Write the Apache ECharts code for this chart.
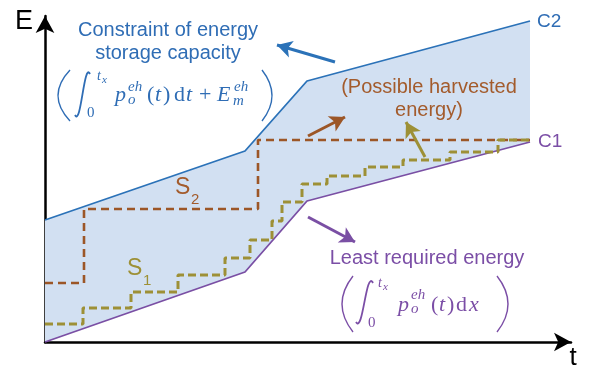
<!DOCTYPE html>
<html><head><meta charset="utf-8">
<script src="https://cdn.jsdelivr.net/npm/echarts@6/dist/echarts.min.js"></script>
<style>html,body{margin:0;padding:0;background:#fff}#c{width:589px;height:370px}</style>
</head><body><div id="c"></div>
<script>
// Boundary curves (shared x breakpoints)
const xC = [0, 200, 262, 485];
const c1 = [0, 70, 141, 200];      // least required energy
const c2 = [122, 191, 261, 321];   // storage capacity constraint
// Strategy S2 (coarse steps)
const s2X = [0, 39, 213, 485];
const s2Y = [59, 133, 202, 202];
// Strategy S1 (fine steps)
const s1X = [0, 38, 86, 133, 180, 205, 227, 237, 257, 282, 320, 358, 405, 453, 485];
const s1Y = [18, 34, 50, 67, 84, 102, 121, 140, 158, 166, 175, 182, 190, 202, 202];

const BLUE = '#2b72b8', PURPLE = '#7a4fa4', BROWN = '#9c5627', OLIVE = '#9d9036';
const BLUE_T = '#2f6db5', BROWN_T = '#a35b2c', PURPLE_T = '#7b4ea6';
const zip = (a, b) => a.map((v, i) => [v, b[i]]);

const chart = echarts.init(document.getElementById('c'), null, {renderer: 'canvas'});

function txt(x, y, s, size, color, opt) {
  opt = opt || {};
  const fam = opt.fam || '"Liberation Sans"';
  const st = opt.italic ? 'italic ' : '';
  return {type: 'text', x: x, y: y, silent: true, z: 100,
    style: {text: s, font: st + size + 'px ' + fam, fill: color,
      align: opt.align || 'left', verticalAlign: 'middle'}};
}
function curve(x1, y1, x2, y2, cx1, cy1, cx2, cy2, color, w) {
  const shape = {x1, y1, x2, y2, cpx1: cx1, cpy1: cy1};
  if (cx2 !== undefined) { shape.cpx2 = cx2; shape.cpy2 = cy2; }
  return {type: 'bezierCurve', shape: shape, silent: true, z: 100,
    style: {stroke: color, lineWidth: w, fill: null}};
}
const SERIF = '"Liberation Serif"';
const M = {fam: SERIF, italic: true};
const R = {fam: SERIF};
const MS = 22, SS = 15;

const graphics = [
  txt(24, 22, 'E', 27, '#000', {align: 'center'}),
  txt(573, 358, 't', 26, '#000', {align: 'center'}),
  txt(537, 22, 'C2', 19, BLUE_T),
  txt(538, 142, 'C1', 19, PURPLE_T),
  txt(175, 188, 'S', 23, BROWN_T),
  txt(191, 200, '2', 15, BROWN_T),
  txt(127, 269, 'S', 23, OLIVE),
  txt(143, 281, '1', 15, OLIVE),
  txt(168, 30, 'Constraint of energy', 20, BLUE_T, {align: 'center'}),
  txt(168, 53, 'storage capacity', 20, BLUE_T, {align: 'center'}),
  txt(429, 87, '(Possible harvested', 20, BROWN_T, {align: 'center'}),
  txt(429, 110, 'energy)', 20, BROWN_T, {align: 'center'}),
  txt(427, 258, 'Least required energy', 20, PURPLE_T, {align: 'center'}),
  // formula 1
  curve(70, 70, 70, 121, 46, 95.5, undefined, undefined, BLUE_T, 1.4),
  curve(75, 115, 90, 74, 81, 127, 84, 61, BLUE_T, 1.8),
  txt(87, 113, '0', SS, BLUE_T, R),
  txt(97, 76, 't', 14, BLUE_T, M),
  txt(102, 80, 'x', 11, BLUE_T, M),
  txt(115, 95, 'p', MS, BLUE_T, M),
  txt(128, 87, 'eh', SS, BLUE_T, M),
  txt(128, 100, 'o', SS, BLUE_T, M),
  txt(147, 95, '(', MS, BLUE_T, R),
  txt(155, 95, 't', MS, BLUE_T, M),
  txt(163, 95, ')', MS, BLUE_T, R),
  txt(174, 95, 'd', MS, BLUE_T, R),
  txt(186, 95, 't', MS, BLUE_T, M),
  txt(199, 95, '+', MS, BLUE_T, R),
  txt(217, 95, 'E', MS, BLUE_T, M),
  txt(234, 87, 'eh', SS, BLUE_T, M),
  txt(233, 101, 'm', SS, BLUE_T, M),
  curve(262, 70, 262, 121, 282, 95.5, undefined, undefined, BLUE_T, 1.4),
  // formula 2
  curve(353, 276, 353, 332, 331, 304, undefined, undefined, PURPLE_T, 1.4),
  curve(356, 322, 373, 283, 363, 334, 366, 269, PURPLE_T, 1.8),
  txt(368, 323, '0', SS, PURPLE_T, R),
  txt(378, 283, 't', 14, PURPLE_T, M),
  txt(383, 287, 'x', 11, PURPLE_T, M),
  txt(398, 305, 'p', MS, PURPLE_T, M),
  txt(411, 295, 'eh', SS, PURPLE_T, M),
  txt(411, 309, 'o', SS, PURPLE_T, M),
  txt(431, 305, '(', MS, PURPLE_T, R),
  txt(439, 305, 't', MS, PURPLE_T, M),
  txt(447, 305, ')', MS, PURPLE_T, R),
  txt(456, 305, 'd', MS, PURPLE_T, R),
  txt(469, 305, 'x', MS, PURPLE_T, M),
  curve(497, 276, 497, 332, 519, 304, undefined, undefined, PURPLE_T, 1.4)
];

function arrow(from, to, color) {
  return {silent: true, animation: false, symbol: ['none', 'arrow'], symbolSize: [13, 15],
    lineStyle: {type: 'solid', width: 3, color: color}, label: {show: false},
    data: [[{coord: from}, {coord: to}]]};
}

const axisCommon = {
  type: 'value', min: 0,
  axisLine: {show: true, symbol: ['none', 'arrow'], symbolSize: [14, 17], lineStyle: {color: '#000', width: 2.5}},
  axisTick: {show: false}, axisLabel: {show: false}, splitLine: {show: false}
};

chart.setOption({
  animation: false,
  grid: {left: 45, right: 18, top: 16, bottom: 28},
  xAxis: Object.assign({}, axisCommon, {max: 526}),
  yAxis: Object.assign({}, axisCommon, {max: 326}),
  graphic: graphics,
  series: [
    {type: 'custom', silent: true, z: 1, data: [[0, 0]],
      renderItem: function (params, api) {
        const pts = [];
        for (let i = 0; i < xC.length; i++) pts.push(api.coord([xC[i], c2[i]]));
        for (let i = xC.length - 1; i >= 0; i--) pts.push(api.coord([xC[i], c1[i]]));
        return {type: 'polygon', shape: {points: pts}, style: {fill: '#d2e0f2', stroke: null}};
      }},
    {type: 'line', name: 'C2', data: zip(xC, c2), symbol: 'none', z: 3,
      lineStyle: {color: BLUE, width: 1.8},
      markLine: arrow([290, 280], [232, 297], BLUE)},
    {type: 'line', name: 'C1', data: zip(xC, c1), symbol: 'none', z: 3,
      lineStyle: {color: PURPLE, width: 1.8},
      markLine: arrow([263, 125], [310, 100], PURPLE)},
    {type: 'line', name: 'S2', data: zip(s2X, s2Y), step: 'end', symbol: 'none', z: 4,
      lineStyle: {color: BROWN, width: 2.6, type: [8, 5]},
      markLine: arrow([263, 206], [300, 225], BROWN)},
    {type: 'line', name: 'S1', data: zip(s1X, s1Y), step: 'end', symbol: 'none', z: 5,
      lineStyle: {color: OLIVE, width: 3, type: [8, 4]},
      markLine: arrow([380, 185], [361, 220], OLIVE)}
  ]
});
</script></body></html>
